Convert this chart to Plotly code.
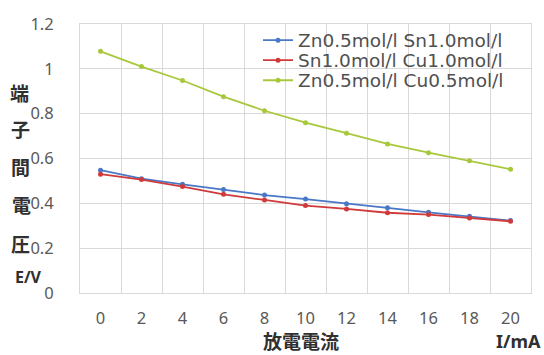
import plotly.graph_objects as go

currents = [0, 2, 4, 6, 8, 10, 12, 14, 16, 18, 20]
zn_sn = [0.548, 0.51, 0.485, 0.462, 0.437, 0.419, 0.398, 0.38, 0.36, 0.342, 0.323]
sn_cu = [0.53, 0.506, 0.475, 0.44, 0.415, 0.39, 0.375, 0.358, 0.35, 0.335, 0.32]
zn_cu = [1.078, 1.01, 0.948, 0.876, 0.813, 0.76, 0.713, 0.665, 0.626, 0.59, 0.552]
names = ["Zn0.5mol/l Sn1.0mol/l", "Sn1.0mol/l Cu1.0mol/l", "Zn0.5mol/l Cu0.5mol/l"]
colors = ["#4A78C8", "#D03A3A", "#A8C83C"]
y_ticks = [0, 0.2, 0.4, 0.6, 0.8, 1.0, 1.2]
y_tick_text = ["0", "0.2", "0.4", "0.6", "0.8", "1", "1.2"]
ylabel_chars = ["端", "子", "間", "電", "圧"]

legend_ids = ["legend", "legend2", "legend3"]
legend_rows = [35, 55.5, 76]

fig = go.Figure()
for vals, name, col, lid in zip([zn_sn, sn_cu, zn_cu], names, colors, legend_ids):
    fig.add_trace(go.Scatter(
        x=currents, y=vals, name=name, mode="lines+markers",
        line=dict(color=col, width=1.8),
        marker=dict(color=col, size=5, symbol="circle"),
        legend=lid,
    ))

legend_style = dict(bgcolor="rgba(255,255,255,0)",
                    font=dict(size=18.5, color="#505050", family="DejaVu Sans"),
                    itemwidth=30, xanchor="left", yanchor="middle")
layout_legends = {}
for lid, row in zip(legend_ids, legend_rows):
    layout_legends[lid] = dict(x=(258 - 80) / 451, y=(293 - row) / 275, **legend_style)

fig.update_layout(
    width=544, height=355,
    margin=dict(l=80, r=13, t=18, b=62),
    paper_bgcolor="white", plot_bgcolor="white",
    font=dict(family="Noto Sans, sans-serif", color="#595959", size=16),
    showlegend=True,
    **layout_legends,
)
boundaries = [c - 1 for c in currents] + [currents[-1] + 1]
fig.update_xaxes(
    range=[-1, 21], tickvals=currents, showgrid=False, zeroline=False,
    minor=dict(tickvals=boundaries, showgrid=True, gridcolor="#D9D9D9", gridwidth=1, ticks=""),
    showline=True, linecolor="#D9D9D9", mirror=True, ticks="",
    ticklabelstandoff=10, tickfont=dict(size=16.5, color="#595959"),
)
fig.update_yaxes(
    range=[0, 1.2], tickvals=y_ticks, ticktext=y_tick_text,
    showgrid=True, gridcolor="#D9D9D9", gridwidth=1, zeroline=False,
    showline=True, linecolor="#D9D9D9", mirror=True, ticks="",
    ticklabelstandoff=22, tickfont=dict(size=16.5, color="#595959"),
)

ann = []
ys = [88, 125, 164, 203, 242]
xs = [19, 20, 20, 21, 20]
for ch, px, py in zip(ylabel_chars, xs, ys):
    ann.append(dict(text="<b>" + ch + "</b>", xref="paper", yref="paper",
                    x=(px - 80) / 451, y=(293 - py) / 275, showarrow=False,
                    xanchor="center", yanchor="middle",
                    font=dict(size=19, color="#303030", family="Noto Sans CJK JP")))
ann.append(dict(text="<b>E/V</b>", xref="paper", yref="paper",
                x=(28 - 80) / 451, y=(293 - 277) / 275, showarrow=False,
                xanchor="center", yanchor="middle",
                font=dict(size=16, color="#303030", family="Noto Sans")))
ann.append(dict(text="<b>放電電流</b>", xref="paper", yref="paper",
                x=(301 - 80) / 451, y=(293 - 342) / 275, showarrow=False,
                xanchor="center", yanchor="middle",
                font=dict(size=19, color="#303030", family="Noto Sans CJK JP")))
ann.append(dict(text="<b>I/mA</b>", xref="paper", yref="paper",
                x=(518 - 80) / 451, y=(293 - 342) / 275, showarrow=False,
                xanchor="center", yanchor="middle",
                font=dict(size=18, color="#303030", family="Noto Sans")))
fig.update_layout(annotations=ann)

fig.write_html("out.html", config={"displayModeBar": False},
               post_script="document.body.style.margin='0';")
